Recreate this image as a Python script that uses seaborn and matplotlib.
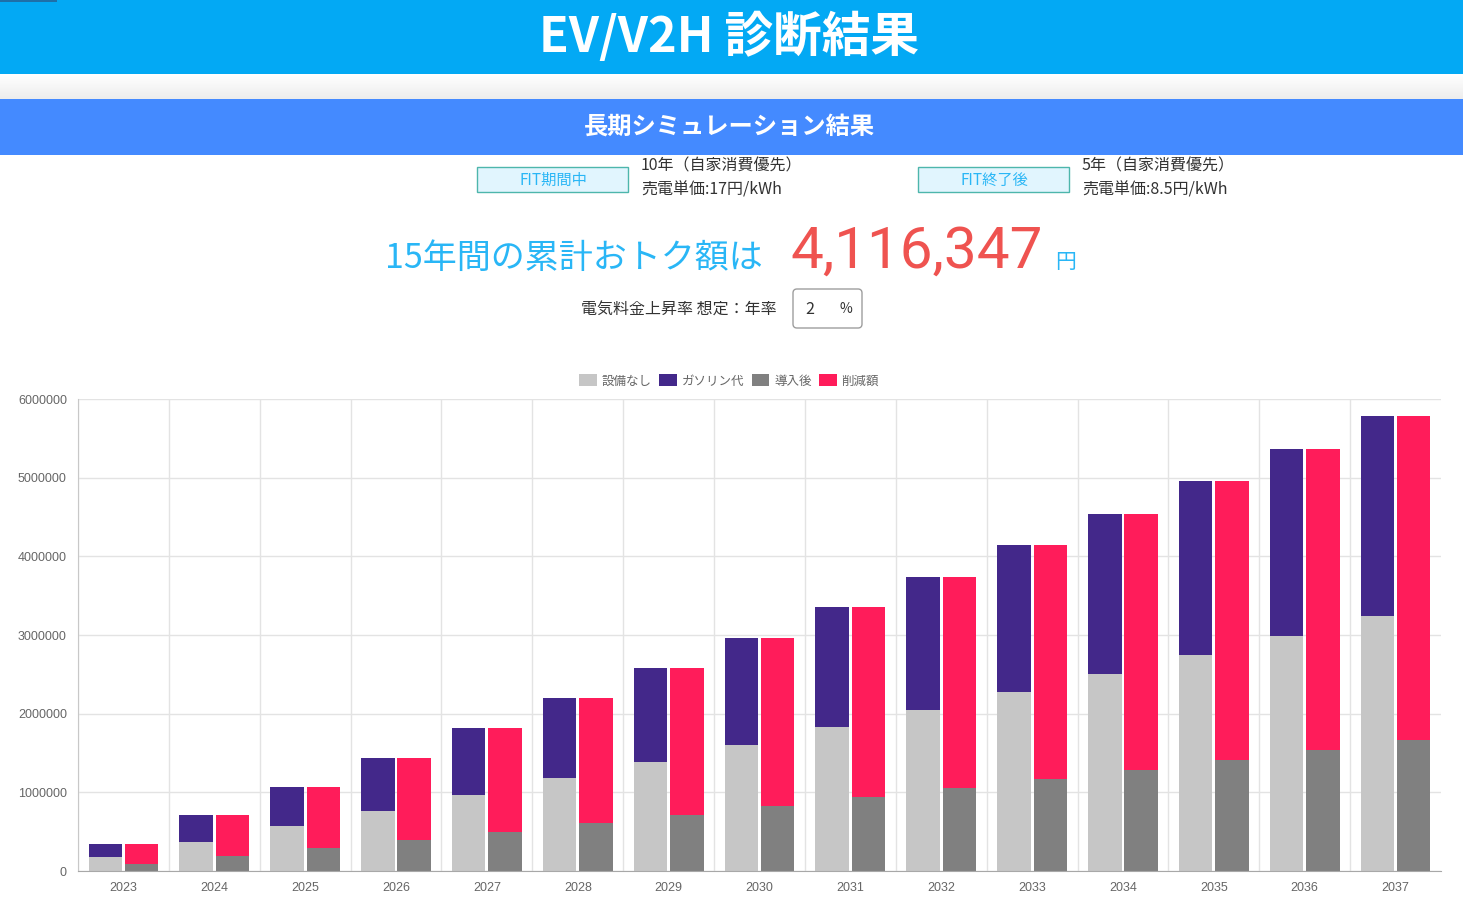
import matplotlib.pyplot as plt
import matplotlib.patches as mpatches
import matplotlib.ticker as mticker
import numpy as np
import pandas as pd
import seaborn as sns

# Values (yen, cumulative per year)
years = [str(y) for y in range(2023, 2038)]
setsubi_nashi = [178000, 369000, 572000, 763000, 970000, 1178000, 1386000, 1602000,
                 1826000, 2047000, 2275000, 2508000, 2746000, 2987000, 3237000]
gasoline = [165000, 343000, 496000, 673000, 848000, 1015000, 1190000, 1360000,
            1525000, 1690000, 1865000, 2034000, 2207000, 2373000, 2543000]
dounyugo = [89000, 190000, 292000, 394000, 492000, 605000, 708000, 822000,
            935000, 1051000, 1169000, 1284000, 1407000, 1534000, 1663653]
sakugen = [254000, 522000, 776000, 1042000, 1326000, 1588000, 1868000, 2140000,
           2416000, 2686000, 2971000, 3258000, 3546000, 3826000, 4116347]
series_labels = ['設備なし', 'ガソリン代', '導入後', '削減額']
series_colors = ['#C6C6C6', '#43288A', '#808080', '#FF1C5A']

W, H = 1463, 918

sns.set_style('white')
plt.rcParams['font.family'] = ['Noto Sans CJK JP', 'DejaVu Sans']

fig = plt.figure(figsize=(W / 100, H / 100), dpi=100)
fig.patch.set_facecolor('white')


def fx(x):
    return x / W


def fy(y):
    return 1 - y / H


def box(x0, y0, x1, y1, **kw):
    # pixel coords (top-left origin) -> inches
    p = mpatches.FancyBboxPatch((x0 / 100, (H - y1) / 100), (x1 - x0) / 100, (y1 - y0) / 100,
                                transform=fig.dpi_scale_trans, **kw)
    fig.add_artist(p)
    return p


# Header bars
box(0, 0, W, 74, boxstyle='square,pad=0', facecolor='#03A9F4', edgecolor='none')
box(0, 0, 57, 2, boxstyle='square,pad=0', facecolor='#1E6FA8', edgecolor='none')
fig.text(fx(729), fy(37), 'EV/V2H 診断結果', color='white', fontsize=35,
         fontweight='bold', ha='center', va='center')

grad_ax = fig.add_axes([0, fy(99), 1, 25 / H])
grad = np.linspace(1.0, 0.93, 25)[:, None, None] * np.ones((25, 2, 3))
grad_ax.imshow(grad, aspect='auto', extent=(0, 1, 0, 1))
grad_ax.axis('off')

box(0, 99, W, 155, boxstyle='square,pad=0', facecolor='#448AFF', edgecolor='none')
fig.text(fx(729), fy(127), '長期シミュレーション結果', color='white', fontsize=17.5,
         fontweight='bold', ha='center', va='center')

# FIT info boxes
for bx, label, line1, line2 in [(477, 'FIT期間中', '10年（自家消費優先）', '売電単価:17円/kWh'),
                                (918, 'FIT終了後', '5年（自家消費優先）', '売電単価:8.5円/kWh')]:
    box(bx, 167, bx + 151, 192, boxstyle='square,pad=0', facecolor='#E1F5FE',
        edgecolor='#4DB6AC', linewidth=1)
    fig.text(fx(bx + 76), fy(180), label, color='#29B6F6', fontsize=11,
             ha='center', va='center')
    fig.text(fx(bx + 164), fy(166), line1, color='#333333', fontsize=11.5, ha='left', va='center')
    fig.text(fx(bx + 164), fy(190), line2, color='#333333', fontsize=11.5, ha='left', va='center')

# Total savings line
fig.text(fx(763), fy(268), '15年間の累計おトク額は', color='#29B6F6', fontsize=24.5,
         ha='right', va='baseline')
fig.text(fx(790), fy(268), f'{sakugen[-1]:,}', color='#EF5350', fontsize=42,
         family=['Roboto', 'DejaVu Sans'], ha='left', va='baseline')
fig.text(fx(1055), fy(268), '円', color='#29B6F6', fontsize=15, ha='left', va='baseline')

# Rate input
fig.text(fx(777), fy(310), '電気料金上昇率 想定：年率', color='#333333', fontsize=11.5,
         ha='right', va='center')
box(793, 289, 862, 328, boxstyle='round,pad=0,rounding_size=0.04', facecolor='white',
    edgecolor='#9E9E9E', linewidth=1)
fig.text(fx(810), fy(309), '2', color='#333333', fontsize=11.5, ha='center', va='center')
fig.text(fx(846), fy(309), '%', color='#333333', fontsize=10, ha='center', va='center')

# Chart data
df_top = pd.DataFrame({
    'year': years * 2,
    'stack': ['before'] * len(years) + ['after'] * len(years),
    'value': [a + b for a, b in zip(setsubi_nashi, gasoline)] +
             [a + b for a, b in zip(dounyugo, sakugen)],
})
df_bottom = pd.DataFrame({
    'year': years * 2,
    'stack': ['before'] * len(years) + ['after'] * len(years),
    'value': setsubi_nashi + dounyugo,
})

ax = fig.add_axes([fx(78), fy(871), (1441 - 78) / W, (871 - 399) / H])
sns.barplot(data=df_top, x='year', y='value', hue='stack', hue_order=['before', 'after'],
            palette={'before': series_colors[1], 'after': series_colors[3]},
            width=0.8, gap=0.08, saturation=1, linewidth=0, legend=False, ax=ax)
sns.barplot(data=df_bottom, x='year', y='value', hue='stack', hue_order=['before', 'after'],
            palette={'before': series_colors[0], 'after': series_colors[2]},
            width=0.8, gap=0.08, saturation=1, linewidth=0, legend=False, ax=ax)

ax.set_xlim(-0.5, len(years) - 0.5)
ax.set_ylim(0, 6000000)
ax.set_yticks(np.arange(0, 6000001, 1000000))
ax.yaxis.set_major_formatter(mticker.StrMethodFormatter('{x:.0f}'))
ax.set_xlabel('')
ax.set_ylabel('')

ax.set_xticks(np.arange(-0.5, len(years) - 1, 1), minor=True)
ax.grid(which='major', axis='y', color='#E3E3E3', linewidth=1)
ax.grid(which='minor', axis='x', color='#E3E3E3', linewidth=1)
ax.grid(which='major', axis='x', visible=False)
ax.set_axisbelow(True)

ax.tick_params(axis='x', which='major', length=0, pad=8, labelsize=9,
               labelcolor='#666666', labelfontfamily='Liberation Sans')
ax.tick_params(axis='x', which='minor', length=7, color='#E0E0E0', width=1)
ax.tick_params(axis='y', which='major', length=6, color='#E0E0E0', width=1, pad=2,
               labelsize=9, labelcolor='#666666', labelfontfamily='Liberation Sans')

for side in ['top', 'right']:
    ax.spines[side].set_visible(False)
ax.spines['left'].set_color('#C8C8C8')
ax.spines['bottom'].set_color('#A8A8A8')

handles = [mpatches.Patch(facecolor=c, edgecolor='none', label=l)
           for c, l in zip(series_colors, series_labels)]
leg = fig.legend(handles=handles, loc='center', bbox_to_anchor=(fx(729), fy(381)), ncol=4,
                 frameon=False, fontsize=9, handlelength=1.4, handleheight=1.1,
                 handletextpad=0.4, columnspacing=0.6, borderaxespad=0)
for t in leg.get_texts():
    t.set_color('#666666')

fig.savefig('out.png', dpi=100)
